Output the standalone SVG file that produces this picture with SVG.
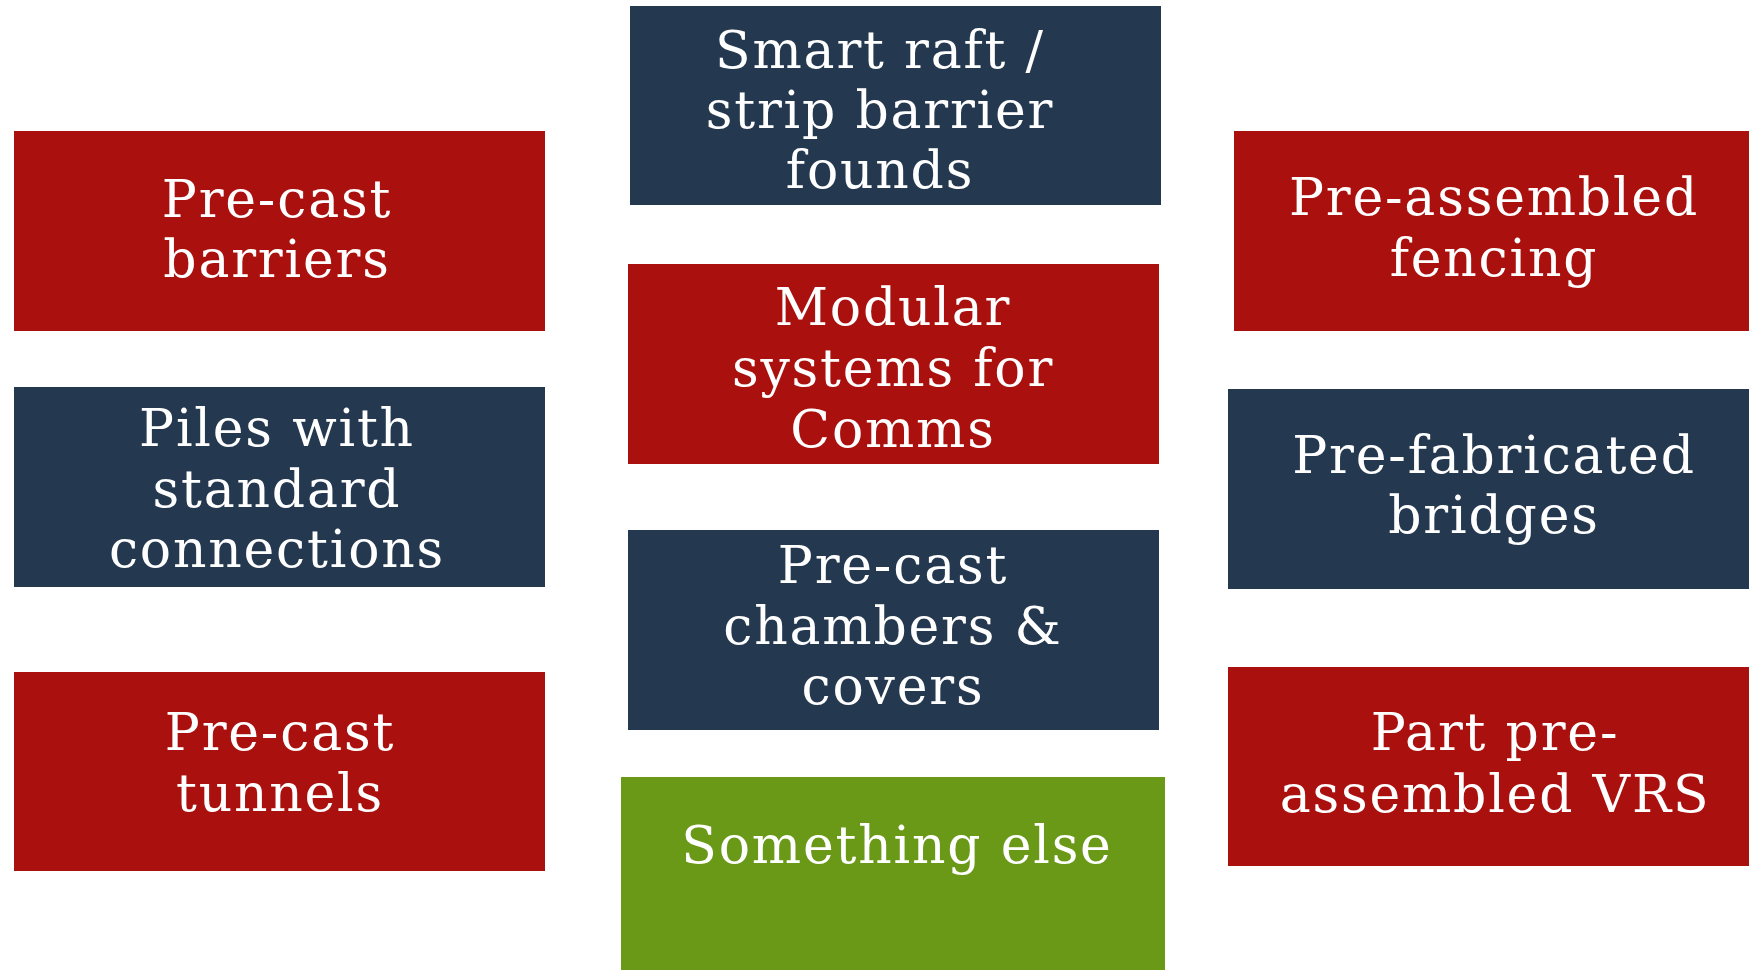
<svg xmlns="http://www.w3.org/2000/svg" width="1749" height="970" viewBox="0 0 1749 970">
<style>
.red{fill:#AA110E}
.navy{fill:#243850}
.green{fill:#6A9918}
text{font-family:"DejaVu Serif","Liberation Serif",serif;font-size:52px;letter-spacing:1.8px;fill:#ffffff;text-anchor:middle}
</style>
<rect width="1749" height="970" fill="#ffffff"/>
<g id="connectors"></g>
<g id="smart-raft">
<rect class="navy" x="630" y="6" width="531" height="199"/>
<text x="880" y="68">Smart raft /</text>
<text x="880" y="128">strip barrier</text>
<text x="880" y="188">founds</text>
</g>
<g id="precast-barriers">
<rect class="red" x="14" y="131" width="531" height="200"/>
<text x="277" y="217">Pre-cast</text>
<text x="277" y="277">barriers</text>
</g>
<g id="preassembled-fencing">
<rect class="red" x="1234" y="131" width="515" height="200"/>
<text x="1494" y="215">Pre-assembled</text>
<text x="1494" y="276">fencing</text>
</g>
<g id="modular-systems">
<rect class="red" x="628" y="264" width="531" height="200"/>
<text x="893" y="325">Modular</text>
<text x="893" y="386">systems for</text>
<text x="893" y="447">Comms</text>
</g>
<g id="piles">
<rect class="navy" x="14" y="387" width="531" height="200"/>
<text x="277" y="446">Piles with</text>
<text x="277" y="507">standard</text>
<text x="277" y="567">connections</text>
</g>
<g id="prefabricated-bridges">
<rect class="navy" x="1228" y="389" width="521" height="200"/>
<text x="1494" y="473">Pre-fabricated</text>
<text x="1494" y="533">bridges</text>
</g>
<g id="precast-chambers">
<rect class="navy" x="628" y="530" width="531" height="200"/>
<text x="893" y="583">Pre-cast</text>
<text x="893" y="644">chambers &amp;</text>
<text x="893" y="704">covers</text>
</g>
<g id="precast-tunnels">
<rect class="red" x="14" y="672" width="531" height="199"/>
<text x="280" y="750">Pre-cast</text>
<text x="280" y="811">tunnels</text>
</g>
<g id="part-preassembled-vrs">
<rect class="red" x="1228" y="667" width="521" height="199"/>
<text x="1495" y="750">Part pre-</text>
<text x="1495" y="812">assembled VRS</text>
</g>
<g id="something-else">
<rect class="green" x="621" y="777" width="544" height="193"/>
<text x="897" y="863">Something else</text>
</g>
</svg>
